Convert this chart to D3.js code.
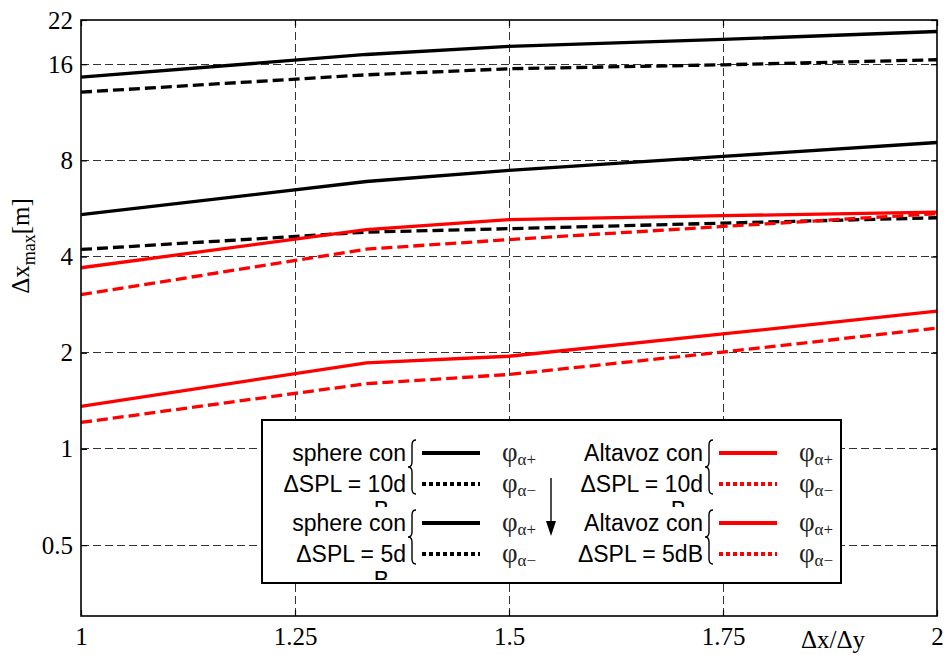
<!DOCTYPE html>
<html lang="en">

<head>
    <meta charset="UTF-8">
    <title>dx max</title>
    <script src="https://d3js.org/d3.v7.min.js"></script>
    <style>
        body { margin: 0; background: #fff; }
    </style>
</head>

<body>
    <script>
        // ratio dx/dy on the x axis
        let ratios = [1, 4 / 3, 1.5, 1.75, 2];
        // sphere, dSPL = 10 dB
        let sphere10Plus = [14.57, 17.16, 18.18, 19.12, 20.25];
        let sphere10Minus = [13.08, 14.82, 15.48, 15.93, 16.52];
        // sphere, dSPL = 5 dB
        let sphere5Plus = [5.41, 6.87, 7.44, 8.23, 9.10];
        let sphere5Minus = [4.21, 4.77, 4.89, 5.09, 5.29];
        // altavoz, dSPL = 10 dB
        let altavoz10Plus = [3.69, 4.86, 5.22, 5.37, 5.51];
        let altavoz10Minus = [3.04, 4.22, 4.52, 4.97, 5.45];
        // altavoz, dSPL = 5 dB
        let altavoz5Plus = [1.36, 1.86, 1.95, 2.29, 2.70];
        let altavoz5Minus = [1.21, 1.60, 1.71, 2.01, 2.39];

        let xTicks = [1, 1.25, 1.5, 1.75, 2];
        let xTickLabels = ["1", "1.25", "1.5", "1.75", "2"];
        let yTicks = [0.5, 1, 2, 4, 8, 16, 22];
        let yTickLabels = ["0.5", "1", "2", "4", "8", "16", "22"];

        let legendLeft = ["sphere con", "ΔSPL = 10d", "B", "sphere con", "ΔSPL = 5d", "B"];
        let legendRight = ["Altavoz con", "ΔSPL = 10d", "B", "Altavoz con", "ΔSPL = 5dB", ""];

        let series = [
            { values: sphere10Plus, color: "#000", dashed: false },
            { values: sphere10Minus, color: "#000", dashed: true },
            { values: sphere5Plus, color: "#000", dashed: false },
            { values: sphere5Minus, color: "#000", dashed: true },
            { values: altavoz10Plus, color: "#f00", dashed: false },
            { values: altavoz10Minus, color: "#f00", dashed: true },
            { values: altavoz5Plus, color: "#f00", dashed: false },
            { values: altavoz5Minus, color: "#f00", dashed: true }
        ];

        let width = 945, height = 655;
        let plotL = 81, plotR = 937, plotT = 20, plotB = 616;
        let serif = "'Liberation Serif', 'Times New Roman', serif";
        let sans = "'Liberation Sans', Arial, sans-serif";

        let svg = d3.select("body").append("svg")
            .attr("width", width)
            .attr("height", height);

        let x = d3.scaleLinear().domain([1, 2]).range([plotL, plotR]);
        let y = d3.scaleLog().base(2).domain([0.3, 22]).range([plotB, plotT]);

        // grid
        let grid = svg.append("g")
            .attr("stroke", "#333")
            .attr("stroke-width", 1)
            .attr("shape-rendering", "crispEdges")
            .attr("stroke-dasharray", "8,4");
        yTicks.filter(t => t < 22).forEach(t => {
            grid.append("line")
                .attr("x1", plotL).attr("x2", plotR)
                .attr("y1", y(t)).attr("y2", y(t));
        });
        xTicks.filter(t => t > 1 && t < 2).forEach(t => {
            grid.append("line")
                .attr("x1", x(t)).attr("x2", x(t))
                .attr("y1", plotT).attr("y2", plotB);
        });

        // axes with inward ticks
        let yAxis = svg.append("g")
            .attr("transform", `translate(${plotL},0)`)
            .call(d3.axisLeft(y).tickValues(yTicks)
                .tickFormat((d, i) => yTickLabels[i])
                .tickSize(-6).tickPadding(8));
        let yAxisR = svg.append("g")
            .attr("transform", `translate(${plotR},0)`)
            .call(d3.axisRight(y).tickValues(yTicks).tickFormat("").tickSize(-6));
        let xAxis = svg.append("g")
            .attr("transform", `translate(0,${plotB})`)
            .call(d3.axisBottom(x).tickValues(xTicks)
                .tickFormat((d, i) => xTickLabels[i])
                .tickSize(-6).tickPadding(11));
        let xAxisT = svg.append("g")
            .attr("transform", `translate(0,${plotT})`)
            .call(d3.axisTop(x).tickValues(xTicks).tickFormat("").tickSize(-6));

        [yAxis, yAxisR, xAxis, xAxisT].forEach(a => {
            a.select(".domain").remove();
            a.selectAll("line").attr("stroke", "#000").attr("stroke-width", 1.2);
            a.selectAll("text")
                .attr("font-family", serif)
                .attr("font-size", 25)
                .attr("fill", "#000");
        });

        // data lines
        let line = d3.line()
            .x((d, i) => x(ratios[i]))
            .y(d => y(d));

        series.forEach(s => {
            svg.append("path")
                .datum(s.values)
                .attr("d", line)
                .attr("fill", "none")
                .attr("stroke", s.color)
                .attr("stroke-width", 3.3)
                .attr("stroke-dasharray", s.dashed ? "11,5" : null);
        });

        // frame
        svg.append("rect")
            .attr("x", plotL).attr("y", plotT)
            .attr("width", plotR - plotL).attr("height", plotB - plotT)
            .attr("fill", "none")
            .attr("stroke", "#000")
            .attr("stroke-width", 1.6);

        // axis titles
        svg.append("text")
            .attr("x", 801).attr("y", 648)
            .attr("font-family", serif)
            .attr("font-size", 25)
            .text("Δx/Δy");

        let yTitle = svg.append("text")
            .attr("transform", "translate(29,246) rotate(-90)")
            .attr("text-anchor", "middle")
            .attr("font-family", serif)
            .attr("font-size", 25);
        yTitle.append("tspan").text("Δx");
        yTitle.append("tspan").attr("font-size", 18).attr("dy", 6).text("max");
        yTitle.append("tspan").attr("dy", -6).text("[m]");

        // legend
        let lg = svg.append("g");
        lg.append("rect")
            .attr("x", 262).attr("y", 420)
            .attr("width", 579).attr("height", 163)
            .attr("fill", "#fff")
            .attr("stroke", "#000")
            .attr("stroke-width", 2);

        let defs = svg.append("defs");
        defs.append("clipPath").attr("id", "clipTop")
            .append("rect").attr("x", 262).attr("y", 425).attr("width", 579).attr("height", 82);
        defs.append("clipPath").attr("id", "clipBot")
            .append("rect").attr("x", 262).attr("y", 508).attr("width", 579).attr("height", 72);

        let rowY = [453, 484, 523, 554];

        function brace(g, bx, y1, y2) {
            let mid = (y1 + y2) / 2, r = 5;
            let xr = bx + 4, xm = bx, xl = bx - 4;
            g.append("path")
                .attr("d", `M${xr},${y1} Q${xm},${y1} ${xm},${y1 + r} L${xm},${mid - r} ` +
                    `Q${xm},${mid} ${xl},${mid} Q${xm},${mid} ${xm},${mid + r} ` +
                    `L${xm},${y2 - r} Q${xm},${y2} ${xr},${y2}`)
                .attr("fill", "none")
                .attr("stroke", "#000")
                .attr("stroke-width", 1.4);
        }

        function legendColumn(labels, x0, color) {
            // x0 = right end of the text
            for (let k = 0; k < 2; k++) {
                let g = lg.append("g").attr("clip-path", k == 0 ? "url(#clipTop)" : "url(#clipBot)");
                let r1 = rowY[k * 2], r2 = rowY[k * 2 + 1];
                let t = labels.slice(k * 3, k * 3 + 3);
                g.append("text").attr("x", x0).attr("y", r1 + 8).text(t[0]);
                g.append("text").attr("x", x0).attr("y", r2 + 8).text(t[1]);
                g.append("text").attr("x", x0 - 17).attr("y", r2 + 34).text(t[2]);
                g.selectAll("text")
                    .attr("text-anchor", "end")
                    .attr("font-family", sans)
                    .attr("font-size", 23)
                    .attr("fill", "#000");

                brace(lg, x0 + 6, r1 - 13, r2 + 10);

                lg.append("line")
                    .attr("x1", x0 + 16).attr("x2", x0 + 74)
                    .attr("y1", r1).attr("y2", r1)
                    .attr("stroke", color).attr("stroke-width", 4);
                lg.append("line")
                    .attr("x1", x0 + 16).attr("x2", x0 + 74)
                    .attr("y1", r2).attr("y2", r2)
                    .attr("stroke", color).attr("stroke-width", 4)
                    .attr("stroke-dasharray", "4,3");

                [["α+", r1], ["α−", r2]].forEach(p => {
                    let ph = lg.append("text")
                        .attr("x", x0 + 96).attr("y", p[1] + 8)
                        .attr("font-family", serif)
                        .attr("font-size", 27)
                        .attr("fill", "#222");
                    ph.append("tspan").text("φ");
                    ph.append("tspan").attr("font-size", 17).attr("dy", 4).text(p[0]);
                });
            }
        }

        legendColumn(legendLeft, 406, "#000");
        legendColumn(legendRight, 703, "#f00");

        // arrow between the two groups
        lg.append("line")
            .attr("x1", 551).attr("x2", 551)
            .attr("y1", 478).attr("y2", 524)
            .attr("stroke", "#000").attr("stroke-width", 1.4);
        lg.append("path")
            .attr("d", "M546,521 L556,521 L551,536 Z")
            .attr("fill", "#000");
    </script>
</body>

</html>
